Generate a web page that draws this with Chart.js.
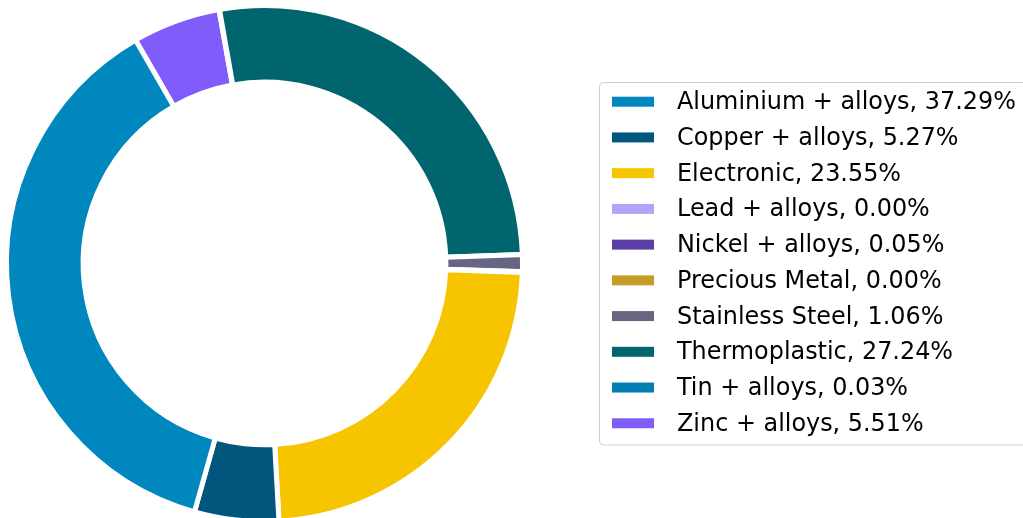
<!DOCTYPE html>
<html>
<head>
<meta charset="utf-8">
<script src="https://cdn.jsdelivr.net/npm/chart.js@4"></script>
<style>
  html, body { margin: 0; padding: 0; overflow: hidden; background: #fff; }
  #wrap { position: absolute; left: 0; top: 0; width: 1023px; height: 540px; }
</style>
</head>
<body>
<div id="wrap"><canvas id="materialChart"></canvas></div>
<script>
// material shares, legend order
const materials = ["Aluminium + alloys", "Copper + alloys", "Electronic", "Lead + alloys", "Nickel + alloys",
	"Precious Metal", "Stainless Steel", "Thermoplastic", "Tin + alloys", "Zinc + alloys"];
const shares = [37.29, 5.27, 23.55, 0.00, 0.05, 0.00, 1.06, 27.24, 0.03, 5.51];
const colors = ["#0087bd", "#00567c", "#f6c500", "#b3a4fa", "#5c3ea7",
	"#c49d26", "#666682", "#00656e", "#007fb4", "#805cfa"];

// matplotlib goes counter-clockwise, chart.js clockwise -> feed it reversed
const revLabels = materials.slice().reverse();
const revShares = shares.slice().reverse();
const revColors = colors.slice().reverse();

//draws the framed legend on the right, in the original order
const boxLegend = {
	id: "boxLegend",
	afterDraw(chart) {
		const ctx = chart.ctx;
		const n = chart.data.labels.length;
		const rowH = 35.73;

		ctx.save();
		ctx.beginPath();
		ctx.roundRect(599.5, 82.5, 460, 362.5, 4);
		ctx.fillStyle = "rgba(255,255,255,0.8)";
		ctx.fill();
		ctx.lineWidth = 1;
		ctx.strokeStyle = "#cccccc";
		ctx.stroke();

		ctx.font = '23.9px "DejaVu Sans"';
		ctx.textBaseline = "alphabetic";
		ctx.textAlign = "left";
		for (let k = 0; k < n; k++) {
			let i = n - 1 - k; // back to legend order
			let y = 96.7 + k * rowH;
			ctx.fillStyle = chart.data.datasets[0].backgroundColor[i];
			ctx.fillRect(612, y, 42, 10);
			ctx.fillStyle = "#000000";
			ctx.fillText(chart.data.labels[i] + ", " + chart.data.datasets[0].data[i].toFixed(2) + "%", 677, y + 12.6);
		}
		ctx.restore();
	}
};

new Chart(document.getElementById("materialChart"), {
	type: "doughnut",
	data: {
		labels: revLabels,
		datasets: [{
			data: revShares,
			backgroundColor: revColors,
			borderColor: "#ffffff",
			borderWidth: 5,
			borderJoinStyle: "miter"
		}]
	},
	options: {
		responsive: true,
		maintainAspectRatio: false,
		animation: false,
		rotation: -30,
		cutout: "70.3%",
		layout: { padding: { left: 4, top: 3, right: 498, bottom: 16 } },
		plugins: {
			legend: { display: false },
			tooltip: { enabled: false }
		}
	},
	plugins: [boxLegend]
});
</script>
</body>
</html>
